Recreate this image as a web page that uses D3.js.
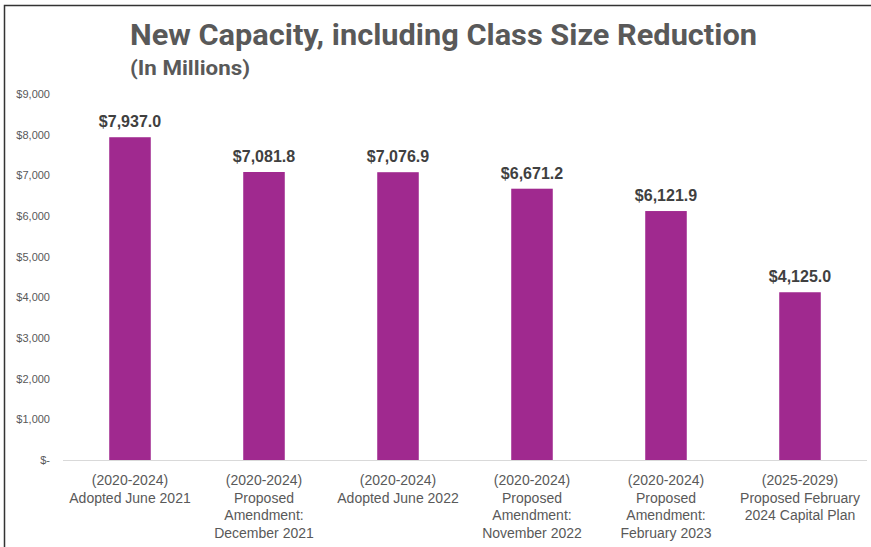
<!DOCTYPE html>
<html>
<head>
<meta charset="utf-8">
<script src="https://cdn.jsdelivr.net/npm/d3@7"></script>
<style>
  body { margin: 0; background: #fff; }
  svg { display: block; }
</style>
</head>
<body>
<div class="chart"></div>
<script>
// data
const categories = [
  ['(2020-2024)', 'Adopted June 2021'],
  ['(2020-2024)', 'Proposed', 'Amendment:', 'December 2021'],
  ['(2020-2024)', 'Adopted June 2022'],
  ['(2020-2024)', 'Proposed', 'Amendment:', 'November 2022'],
  ['(2020-2024)', 'Proposed', 'Amendment:', 'February 2023'],
  ['(2025-2029)', 'Proposed February', '2024 Capital Plan']
];
const values = [7937.0, 7081.8, 7076.9, 6671.2, 6121.9, 4125.0];
const yTicks = [0, 1000, 2000, 3000, 4000, 5000, 6000, 7000, 8000, 9000];

const width = 871, height = 547;
const margin = { top: 94, right: 4, bottom: 87, left: 63 };

const svg = d3.select('.chart')
  .append('svg')
  .attr('width', width)
  .attr('height', height);

// frame (left and top edges show)
svg.append('rect')
  .attr('x', 4.5).attr('y', 5.5)
  .attr('width', width + 10).attr('height', height + 10)
  .attr('fill', 'none')
  .attr('stroke', '#333')
  .attr('stroke-width', 1.5);

const keys = categories.map((c, i) => i);
const x = d3.scaleBand()
  .domain(keys)
  .range([margin.left, width - margin.right])
  .paddingInner(0.69)
  .paddingOuter(0.345);

const y = d3.scaleLinear()
  .domain([0, 9000])
  .range([height - margin.bottom, margin.top]);

// y axis labels only
const yAxis = svg.append('g')
  .attr('transform', 'translate(50,0)')
  .call(d3.axisLeft(y).tickValues(yTicks).tickSize(0).tickPadding(0)
    .tickFormat(d => d === 0 ? '$-' : '$' + d3.format(',')(d)));
yAxis.select('.domain').remove();
yAxis.selectAll('text')
  .attr('fill', '#595959')
  .style('font-family', 'Liberation Sans, Arial, sans-serif')
  .style('font-size', '11px');

// baseline
svg.append('line')
  .attr('x1', margin.left).attr('x2', width - margin.right)
  .attr('y1', y(0) + 0.5).attr('y2', y(0) + 0.5)
  .attr('stroke', '#d9d9d9')
  .attr('stroke-width', 1);

// bars
svg.append('g').selectAll('rect')
  .data(values)
  .enter()
  .append('rect')
  .attr('x', (d, i) => x(i))
  .attr('y', d => y(d))
  .attr('width', x.bandwidth())
  .attr('height', d => y(0) - y(d))
  .attr('fill', '#a0298f');

// value labels
svg.append('g').selectAll('text')
  .data(values)
  .enter()
  .append('text')
  .attr('x', (d, i) => x(i) + x.bandwidth() / 2)
  .attr('y', d => y(d) - 10)
  .attr('text-anchor', 'middle')
  .attr('fill', '#404040')
  .style('font-family', 'Liberation Sans, Arial, sans-serif')
  .style('font-weight', 'bold')
  .style('font-size', '16px')
  .text(d => '$' + d3.format(',.1f')(d));

// category labels
const cat = svg.append('g').selectAll('text')
  .data(categories)
  .enter()
  .append('text')
  .attr('x', (d, i) => x(i) + x.bandwidth() / 2)
  .attr('y', y(0) + 25)
  .attr('text-anchor', 'middle')
  .attr('fill', '#595959')
  .style('font-family', 'Liberation Sans, Arial, sans-serif')
  .style('font-size', '14px');
cat.selectAll('tspan')
  .data(d => d)
  .enter()
  .append('tspan')
  .attr('x', function() { return d3.select(this.parentNode).attr('x'); })
  .attr('dy', (d, i) => i === 0 ? 0 : 17.7)
  .text(d => d);

// titles
svg.append('text')
  .attr('x', 130).attr('y', 45)
  .attr('fill', '#595959')
  .attr('textLength', 627)
  .attr('lengthAdjust', 'spacingAndGlyphs')
  .style('font-family', 'Roboto, sans-serif')
  .style('font-weight', 'bold')
  .style('font-size', '29px')
  .text('New Capacity, including Class Size Reduction');

svg.append('text')
  .attr('x', 130).attr('y', 75)
  .attr('fill', '#595959')
  .attr('textLength', 120)
  .attr('lengthAdjust', 'spacingAndGlyphs')
  .style('font-family', 'Roboto, sans-serif')
  .style('font-weight', 'bold')
  .style('font-size', '20px')
  .text('(In Millions)');
</script>
</body>
</html>
